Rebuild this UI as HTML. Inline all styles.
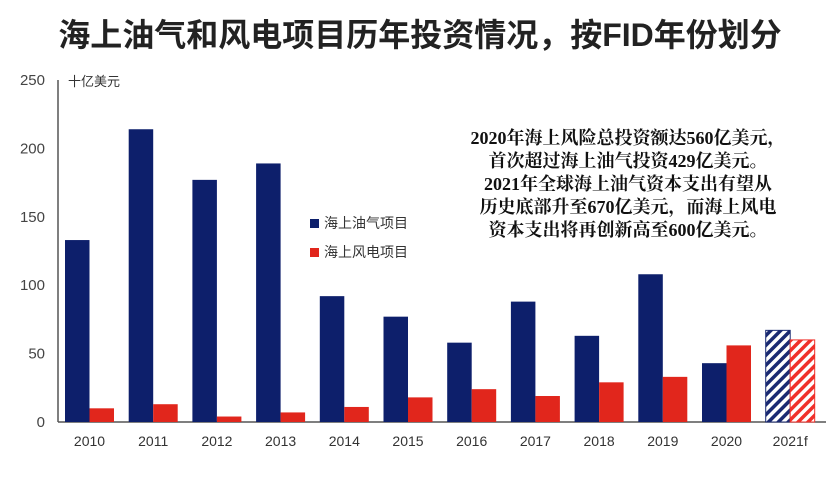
<!DOCTYPE html>
<html><head><meta charset="utf-8"><style>
body{margin:0;background:#fff;width:837px;height:475px;overflow:hidden;font-family:"Liberation Sans","Noto Sans CJK SC",sans-serif}
</style></head><body>
<svg id="chart" width="837" height="475" xmlns="http://www.w3.org/2000/svg">
<defs>
<pattern id="hb" patternUnits="userSpaceOnUse" width="7" height="7" patternTransform="rotate(45)"><rect width="7" height="7" fill="#fff"/><rect width="3.5" height="7" fill="#1a2a72"/></pattern>
<pattern id="hr" patternUnits="userSpaceOnUse" width="7" height="7" patternTransform="rotate(45)"><rect width="7" height="7" fill="#fff"/><rect width="3.5" height="7" fill="#f0302a"/></pattern>
</defs>
<text x="420" y="46" text-anchor="middle" font-size="32" font-weight="bold" fill="#222" font-family="Liberation Sans,Noto Sans CJK SC,sans-serif">海上油气和风电项目历年投资情况，按FID年份划分</text>
<text x="68" y="86" font-size="13" fill="#333">十亿美元</text>
<g id="annot" font-family="Liberation Serif,Noto Serif CJK SC,serif" font-weight="bold" font-size="18" fill="#111" text-anchor="middle">
<text x="628" y="144">2020年海上风险总投资额达560亿美元，</text>
<text x="628" y="167">首次超过海上油气投资429亿美元。</text>
<text x="628" y="190">2021年全球海上油气资本支出有望从</text>
<text x="628" y="213">历史底部升至670亿美元，而海上风电</text>
<text x="628" y="236">资本支出将再创新高至600亿美元。</text>
</g>
<g font-size="14" fill="#333">
<rect x="310" y="219" width="9" height="9" fill="#0d1f6b"/><text x="324" y="228">海上油气项目</text>
<rect x="310" y="248" width="9" height="9" fill="#e1261c"/><text x="324" y="257">海上风电项目</text>
</g>
<g id="axes"></g><g id="bars"></g>
</svg>
<script>
const categories=["2010","2011","2012","2013","2014","2015","2016","2017","2018","2019","2020","2021f"];
const oilGas=[133,214,177,189,92,77,58,88,63,108,43,67];
const wind=[10,13,4,7,11,18,24,19,29,33,56,60];
const yTicks=[0,50,100,150,200,250];
const NS="http://www.w3.org/2000/svg";
const x0=58,step=63.7,y0=422,k=1.368;
const X=i=>x0+7+i*step, Y=v=>y0-v*k;
function mk(t,a,p){const e=document.createElementNS(NS,t);for(const n in a)e.setAttribute(n,a[n]);p.appendChild(e);return e;}
const ax=document.getElementById('axes'),bars=document.getElementById('bars');
yTicks.forEach(v=>{const t=mk('text',{x:45,y:Y(v)+5,'text-anchor':'end','font-size':15,fill:'#444'},ax);t.textContent=v;

});
categories.forEach((c,i)=>{const t=mk('text',{x:X(i)+24.5,y:446,'text-anchor':'middle','font-size':14,fill:'#333'},ax);t.textContent=c;


const last=i===categories.length-1;
const b=mk('rect',{x:X(i),y:Y(oilGas[i]),width:24.5,height:oilGas[i]*k,fill:last?'url(#hb)':'#0d1f6b',stroke:last?'#1a2a72':'none'},bars);


const r=mk('rect',{x:X(i)+24.5,y:Y(wind[i]),width:24.5,height:wind[i]*k,fill:last?'url(#hr)':'#e1261c',stroke:last?'#f0302a':'none'},bars);

});
const ya=mk('line',{x1:x0,y1:80,x2:x0,y2:y0,stroke:'#555','stroke-width':1.5},ax);


const xa=mk('line',{x1:x0,y1:y0,x2:826,y2:y0,stroke:'#555','stroke-width':1.5},ax);


</script>
</body></html>
